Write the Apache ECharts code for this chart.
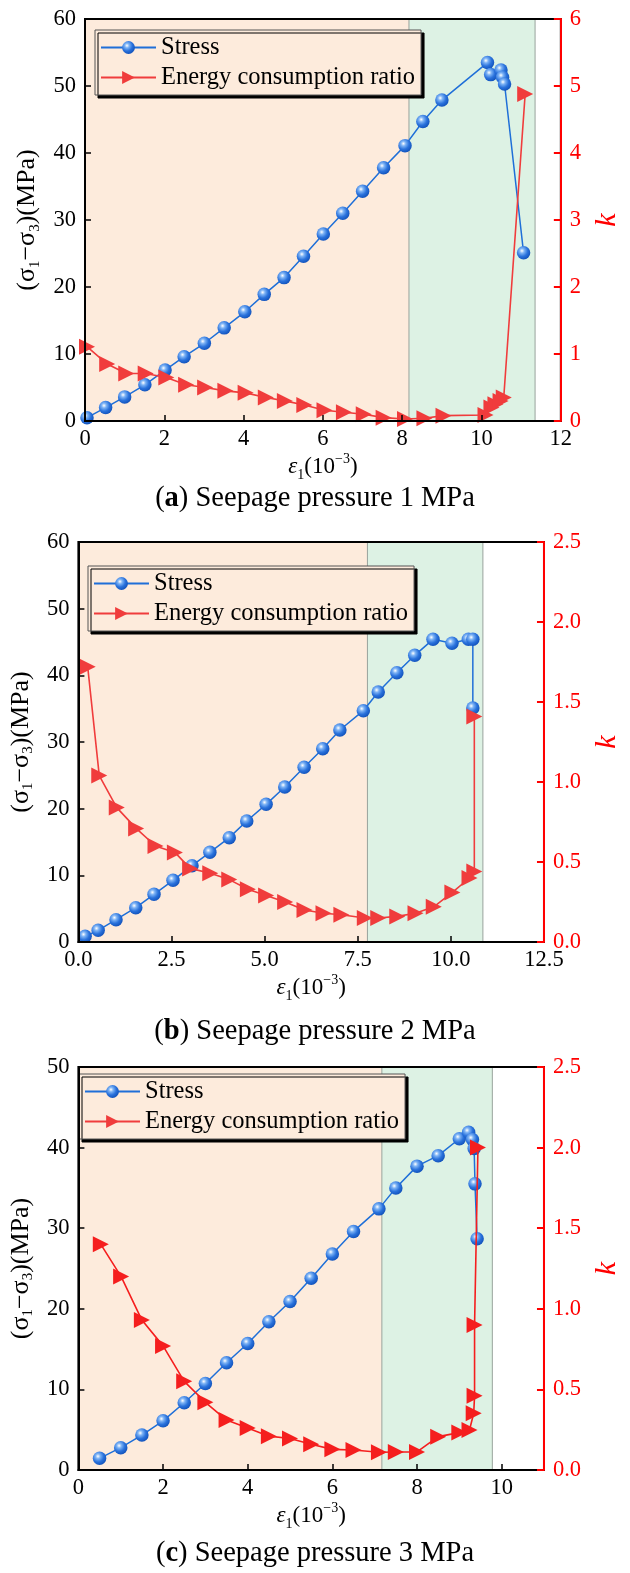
<!DOCTYPE html>
<html><head><meta charset="utf-8">
<script src="https://cdn.jsdelivr.net/npm/echarts@6/dist/echarts.min.js"></script>
<style>html,body{margin:0;padding:0;background:#fff}#c{width:630px;height:1573px}</style>
</head><body><div id="c"></div>
<script>
// ---- Panel (a): seepage pressure 1 MPa ----
const strainA_stress = [0.05,0.52,1.0,1.51,2.02,2.5,3.01,3.51,4.03,4.52,5.02,5.51,6.01,6.5,7.0,7.53,8.07,8.52,9.0,10.15,10.23,10.49,10.53,10.58,11.06];
const stressA = [0.5,2.0,3.6,5.4,7.6,9.6,11.6,13.9,16.3,18.9,21.4,24.6,27.9,31.0,34.3,37.8,41.1,44.7,47.9,53.5,51.7,52.4,51.3,50.3,25.1];
const strainA_k = [0.05,0.56,1.04,1.53,2.05,2.55,3.03,3.54,4.05,4.56,5.04,5.53,6.04,6.53,7.03,7.53,8.07,8.56,9.04,10.1,10.25,10.35,10.48,10.56,11.1];
const kA = [1.11,0.85,0.71,0.71,0.65,0.54,0.50,0.45,0.42,0.35,0.30,0.24,0.16,0.13,0.10,0.05,0.03,0.04,0.08,0.09,0.20,0.25,0.30,0.35,4.88];
const zonesA = [0, 8.17, 11.35];

// ---- Panel (b): seepage pressure 2 MPa ----
const strainB_stress = [0.18,0.53,1.01,1.54,2.03,2.54,3.05,3.53,4.05,4.52,5.04,5.54,6.06,6.56,7.02,7.65,8.05,8.55,9.03,9.52,10.03,10.47,10.59,10.59];
const stressB = [0.85,1.75,3.35,5.15,7.15,9.25,11.45,13.45,15.65,18.15,20.65,23.25,26.2,29.0,31.8,34.7,37.5,40.4,43.0,45.4,44.8,45.4,45.4,35.1];
const strainB_k = [0.25,0.56,1.03,1.55,2.07,2.59,3.0,3.54,4.05,4.55,5.04,5.55,6.07,6.58,7.06,7.69,8.05,8.56,9.05,9.54,10.04,10.5,10.63,10.63];
const kB = [1.72,1.04,0.84,0.71,0.60,0.56,0.46,0.43,0.39,0.33,0.29,0.25,0.20,0.18,0.17,0.15,0.15,0.16,0.18,0.22,0.31,0.40,0.44,1.41];
const zonesB = [0, 7.76, 10.86];

// ---- Panel (c): seepage pressure 3 MPa ----
const strainC_stress = [0.5,1.0,1.5,2.0,2.5,3.0,3.5,4.0,4.5,5.0,5.5,6.0,6.5,7.1,7.5,8.0,8.5,9.0,9.22,9.31,9.35,9.37,9.42];
const stressC = [1.45,2.77,4.34,6.1,8.35,10.74,13.3,15.7,18.4,20.9,23.8,26.8,29.6,32.4,35.0,37.7,39.0,41.1,41.9,41.0,39.9,35.5,28.7];
const strainC_k = [0.53,1.01,1.5,2.0,2.5,3.0,3.5,4.0,4.5,5.0,5.5,6.0,6.5,7.1,7.5,8.0,8.5,9.0,9.24,9.34,9.36,9.36,9.44];
const kC = [1.40,1.20,0.93,0.77,0.55,0.42,0.31,0.26,0.21,0.195,0.16,0.128,0.124,0.11,0.112,0.112,0.207,0.232,0.248,0.352,0.46,0.90,2.0];
const zonesC = [0, 7.17, 9.78];

// axis settings
const xRanges = [[0,12,2],[0,12.5,2.5],[0,11,2]];
const yLeftRanges = [[0,60,10],[0,60,10],[0,50,10]];
const yRightRanges = [[0,6,1],[0,2.5,0.5],[0,2.5,0.5]];
const captions = ['a','b','c'];
const captionPressure = ['1','2','3'];
const seriesNames = ['Stress','Energy consumption ratio'];

const FF = 'Liberation Serif';
const grids = [
  {left:85, top:19, width:495, height:402},
  {left:77, top:542, width:496, height:400},
  {left:74, top:1067, width:500, height:403}
];
const legendPos = [{left:95, top:30},{left:88, top:566},{left:79, top:1074}];
const captionTop = [478, 1011, 1533];
const kGap = [40, 46, 48];
const yNameGap = [55, 54, 54];

const panels = [
  [strainA_stress, stressA, strainA_k, kA, zonesA],
  [strainB_stress, stressB, strainB_k, kB, zonesB],
  [strainC_stress, stressC, strainC_k, kC, zonesC]
];

const sphere = new echarts.graphic.RadialGradient(0.38, 0.35, 0.7, [
  {offset:0, color:'#ffffff'}, {offset:0.25, color:'#7db3f5'}, {offset:0.6, color:'#2a72dc'}, {offset:1, color:'#0f4fb8'}
]);
const pair = (xs, ys) => xs.map((x, i) => [x, ys[i]]);

const option = {
  animation: false,
  textStyle: {fontFamily: FF},
  grid: grids.map(g => Object.assign({show:true, borderColor:'#000', borderWidth:2, backgroundColor:'transparent', z:5}, g)),
  title: captions.map((c, i) => ({
    text: '{n|(}{b|' + c + '}{n|) Seepage pressure ' + captionPressure[i] + ' MPa}',
    left: 'center', top: captionTop[i],
    textStyle: {fontWeight:'normal', rich: {
      n: {fontFamily: FF, fontSize: 28.5, lineHeight: 32, fontWeight:'normal', color:'#000'},
      b: {fontFamily: FF, fontSize: 28.5, lineHeight: 32, fontWeight:'bold', color:'#000'}
    }}
  })),
  legend: legendPos.map((p, i) => ({
    left: p.left, top: p.top, orient:'vertical',
    data: seriesNames,
    itemWidth: 55, itemHeight: 16, itemGap: 3,
    padding: [4,6,4,5],
    backgroundColor: '#fdebdc', borderColor:'#555', borderWidth:1,
    shadowColor:'#000', shadowOffsetX:3, shadowOffsetY:3, shadowBlur:0,
    selectedMode:false,
    textStyle: {fontFamily: FF, fontSize: 24.5, lineHeight: 27, color:'#000'}
  })),
  xAxis: xRanges.map((r, i) => ({
    type:'value', gridIndex:i, min:r[0], max:r[1], interval:r[2], z:6,
    name: '{e|ε}{s|1}{n|(10}{p|−3}{n|)}',
    nameLocation:'middle', nameGap: 43,
    nameTextStyle: {verticalAlign:'middle', rich: {
      e: {fontFamily: FF, fontSize:23, fontStyle:'italic', lineHeight:30, verticalAlign:'middle', color:'#000'},
      n: {fontFamily: FF, fontSize:23, lineHeight:30, verticalAlign:'middle', color:'#000'},
      s: {fontFamily: FF, fontSize:14, lineHeight:12, verticalAlign:'bottom', color:'#000'},
      p: {fontFamily: FF, fontSize:14, lineHeight:12, verticalAlign:'top', color:'#000'}
    }},
    axisLine: {lineStyle:{color:'#000', width:2}},
    axisTick: {inside:true, length:6, lineStyle:{color:'#000', width:1.5}},
    splitLine: {show:false},
    axisLabel: {fontFamily: FF, fontSize:22.5, color:'#000', margin:7,
      formatter: v => (v > r[1] - 1e-9 && (r[1] % r[2]) !== 0) ? '' : (r[2] % 1 ? v.toFixed(1) : String(v))}
  })),
  yAxis: [].concat(...yLeftRanges.map((r, i) => {
    const rr = yRightRanges[i];
    return [
      {type:'value', gridIndex:i, min:r[0], max:r[1], interval:r[2], position:'left', z:6,
       name:'{n|(σ}{s|1}{n|−σ}{s|3}{n|)(MPa)}', nameLocation:'middle', nameRotate:90, nameGap:yNameGap[i],
       nameTextStyle:{verticalAlign:'middle', rich:{
         n:{fontFamily:FF, fontSize:26, lineHeight:30, verticalAlign:'middle', color:'#000'},
         s:{fontFamily:FF, fontSize:15, lineHeight:13, verticalAlign:'bottom', color:'#000'}
       }},
       axisLine:{show:true, lineStyle:{color:'#000', width:2}},
       axisTick:{show:true, inside:true, length:6, lineStyle:{color:'#000', width:1.5}},
       splitLine:{show:false},
       axisLabel:{fontFamily:FF, fontSize:22.5, color:'#000', margin:9}},
      {type:'value', gridIndex:i, min:rr[0], max:rr[1], interval:rr[2], position:'right', z:7,
       name:'k', nameLocation:'middle', nameRotate:90, nameGap:kGap[i],
       nameTextStyle:{fontFamily:FF, fontSize:30, fontStyle:'italic', color:'#ff0000', verticalAlign:'middle'},
       axisLine:{show:true, lineStyle:{color:'#ff0000', width:2}},
       axisTick:{show:true, inside:true, length:7, lineStyle:{color:'#ff0000', width:2}},
       splitLine:{show:false},
       axisLabel:{fontFamily:FF, fontSize:22.5, color:'#ff0000', margin:9,
         formatter: v => rr[2] % 1 ? v.toFixed(1) : String(v)}}
    ];
  })),
  series: [].concat(...panels.map((p, i) => [
    {name: seriesNames[0], type:'line', xAxisIndex:i, yAxisIndex:2*i, data: pair(p[0], p[1]),
     symbol:'circle', symbolSize:13.5, z:3,
     lineStyle:{color:'#1f6fd8', width:1.5},
     itemStyle:{color: sphere, borderWidth:0},
     markArea:{silent:true, z:1,
       data:[
         [{xAxis:p[4][0], itemStyle:{color:'#fdebdc', borderWidth:0}}, {xAxis:p[4][1]}],
         [{xAxis:p[4][1], itemStyle:{color:'#ddf2e4', borderColor:'#99a39c', borderWidth:1}}, {xAxis:p[4][2]}]
       ]}
    },
    {name: seriesNames[1], type:'line', xAxisIndex:i, yAxisIndex:2*i+1, data: pair(p[2], p[3]),
     symbol:'triangle', symbolRotate:-90, symbolSize:[16,16], z:4,
     lineStyle:{color: i === 2 ? '#f51e1e' : '#f03c3c', width:1.6},
     itemStyle:{color: i === 2 ? '#f51e1e' : '#f03c3c', borderWidth:0}
    }
  ]))
};
const chart = echarts.init(document.getElementById('c'), null, {renderer:'canvas'});
chart.setOption(option);
</script></body></html>
